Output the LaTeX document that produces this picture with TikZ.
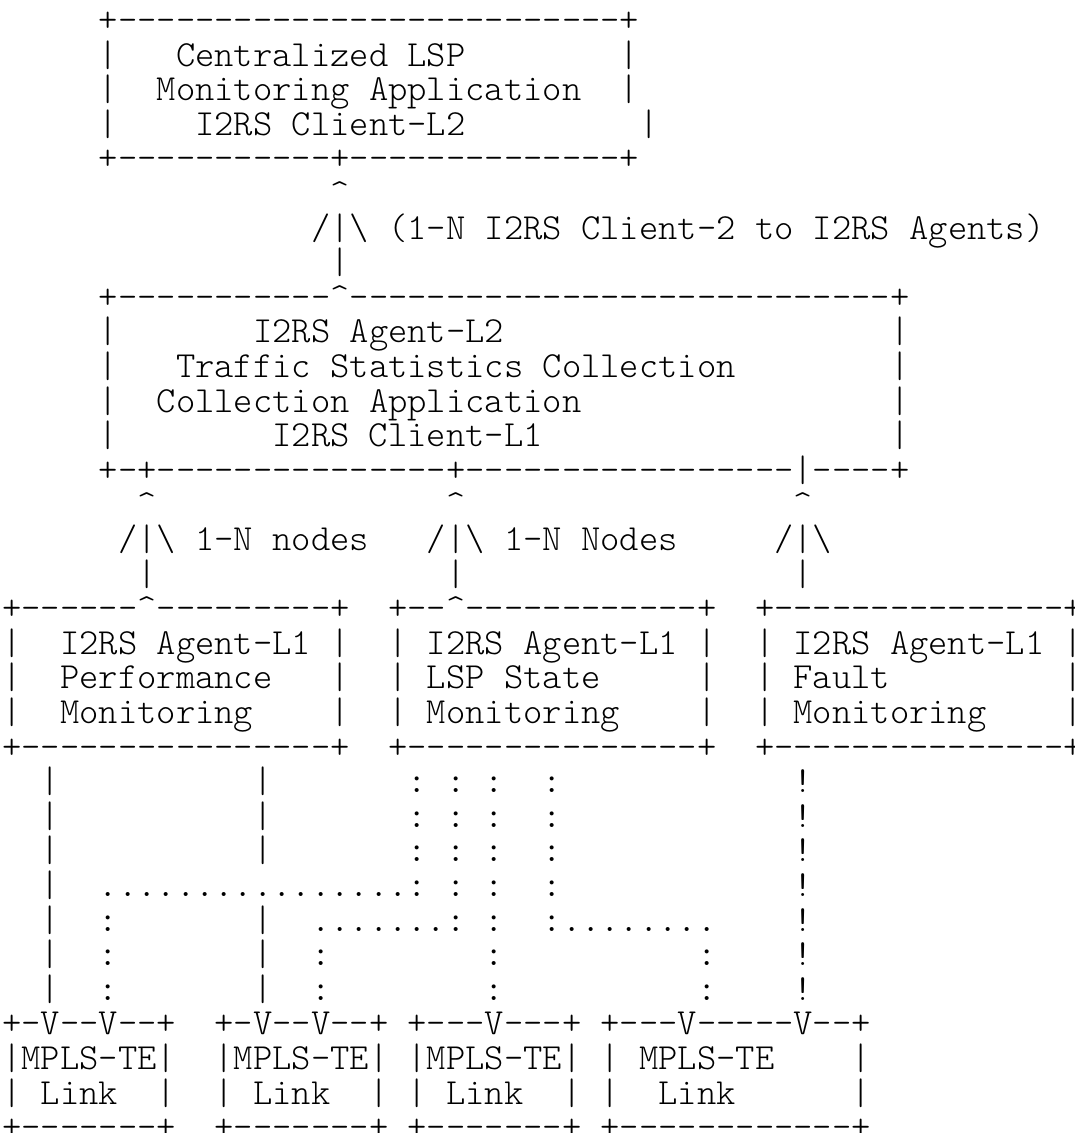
\documentclass[tikz,border=0pt]{standalone}
\usepackage{fontspec}
\setmonofont{lmmonolt10-regular.otf}
\frenchspacing
% character grid: column pitch and line pitch in px
\newcommand\colw{19.3}
\newcommand\lineh{34.6}
\newcommand\ci{\textasciicircum}
\newcommand\bs{\textbackslash}
\begin{document}
\begin{tikzpicture}[x=0.75pt,y=-0.75pt,
  asc/.style={anchor=base west,inner sep=0pt,outer sep=0pt,
    font=\ttfamily\fontsize{27.57pt}{27.57pt}\selectfont}]
\useasboundingbox[fill=white] (0,0) rectangle (1075,1133);
% one text line of the figure, starting at a given column
\newcommand\asciirow[4]{\node[asc] (#1) at ({2.35+\colw*#2},{31.5+\lineh*#3}) {#4};}
% client box
\asciirow{row00}{5}{0}{+--------------------------+}
\asciirow{row01}{5}{1}{|~~~Centralized~LSP~~~~~~~~|}
\asciirow{row02}{5}{2}{|~~Monitoring~Application~~|}
\asciirow{row03}{5}{3}{|~~~~I2RS~Client-L2~~~~~~~~~|}
\asciirow{row04}{5}{4}{+-----------+--------------+}
% link to the agent box
\asciirow{row05}{17}{5}{\ci}
\asciirow{row06}{16}{6}{/|\bs{}~(1-N~I2RS~Client-2~to~I2RS~Agents)}
\asciirow{row07}{17}{7}{|}
% agent-L2 box
\asciirow{row08}{5}{8}{+-----------\ci{}----------------------------+}
\asciirow{row09}{5}{9}{|~~~~~~~I2RS~Agent-L2~~~~~~~~~~~~~~~~~~~~|}
\asciirow{row10}{5}{10}{|~~~Traffic~Statistics~Collection~~~~~~~~|}
\asciirow{row11}{5}{11}{|~~Collection~Application~~~~~~~~~~~~~~~~|}
\asciirow{row12}{5}{12}{|~~~~~~~~I2RS~Client-L1~~~~~~~~~~~~~~~~~~|}
\asciirow{row13}{5}{13}{+-+---------------+-----------------|----+}
% links to the agent-L1 boxes
\asciirow{row14}{7}{14}{\ci{}~~~~~~~~~~~~~~~\ci{}~~~~~~~~~~~~~~~~~\ci}
\asciirow{row15}{6}{15}{/|\bs{}~1-N~nodes~~~/|\bs{}~1-N~Nodes~~~~~/|\bs}
\asciirow{row16}{7}{16}{|~~~~~~~~~~~~~~~|~~~~~~~~~~~~~~~~~|}
% agent-L1 boxes
\asciirow{row17}{0}{17}{+------\ci{}---------+~~+--\ci{}------------+~~+---------------+}
\asciirow{row18}{0}{18}{|~~I2RS~Agent-L1~|~~|~I2RS~Agent-L1~|~~|~I2RS~Agent-L1~|}
\asciirow{row19}{0}{19}{|~~Performance~~~|~~|~LSP~State~~~~~|~~|~Fault~~~~~~~~~|}
\asciirow{row20}{0}{20}{|~~Monitoring~~~~|~~|~Monitoring~~~~|~~|~Monitoring~~~~|}
\asciirow{row21}{0}{21}{+----------------+~~+---------------+~~+---------------+}
% wiring down to the links
\asciirow{row22}{2}{22}{|~~~~~~~~~~|~~~~~~~:~:~:~~:~~~~~~~~~~~~!}
\asciirow{row23}{2}{23}{|~~~~~~~~~~|~~~~~~~:~:~:~~:~~~~~~~~~~~~!}
\asciirow{row24}{2}{24}{|~~~~~~~~~~|~~~~~~~:~:~:~~:~~~~~~~~~~~~!}
\asciirow{row25}{2}{25}{|~~................:~:~:~~:~~~~~~~~~~~~!}
\asciirow{row26}{2}{26}{|~~:~~~~~~~|~~.......:~:~~:........~~~~!}
\asciirow{row27}{2}{27}{|~~:~~~~~~~|~~:~~~~~~~~:~~~~~~~~~~:~~~~!}
\asciirow{row28}{2}{28}{|~~:~~~~~~~|~~:~~~~~~~~:~~~~~~~~~~:~~~~!}
% MPLS-TE link boxes
\asciirow{row29}{0}{29}{+-V--V--+~~+-V--V--+~+---V---+~+---V-----V--+}
\asciirow{row30}{0}{30}{|MPLS-TE|~~|MPLS-TE|~|MPLS-TE|~|~MPLS-TE~~~~|}
\asciirow{row31}{0}{31}{|~Link~~|~~|~Link~~|~|~Link~~|~|~~Link~~~~~~|}
\asciirow{row32}{0}{32}{+-------+~~+-------+~+-------+~+------------+}
\end{tikzpicture}
\end{document}
